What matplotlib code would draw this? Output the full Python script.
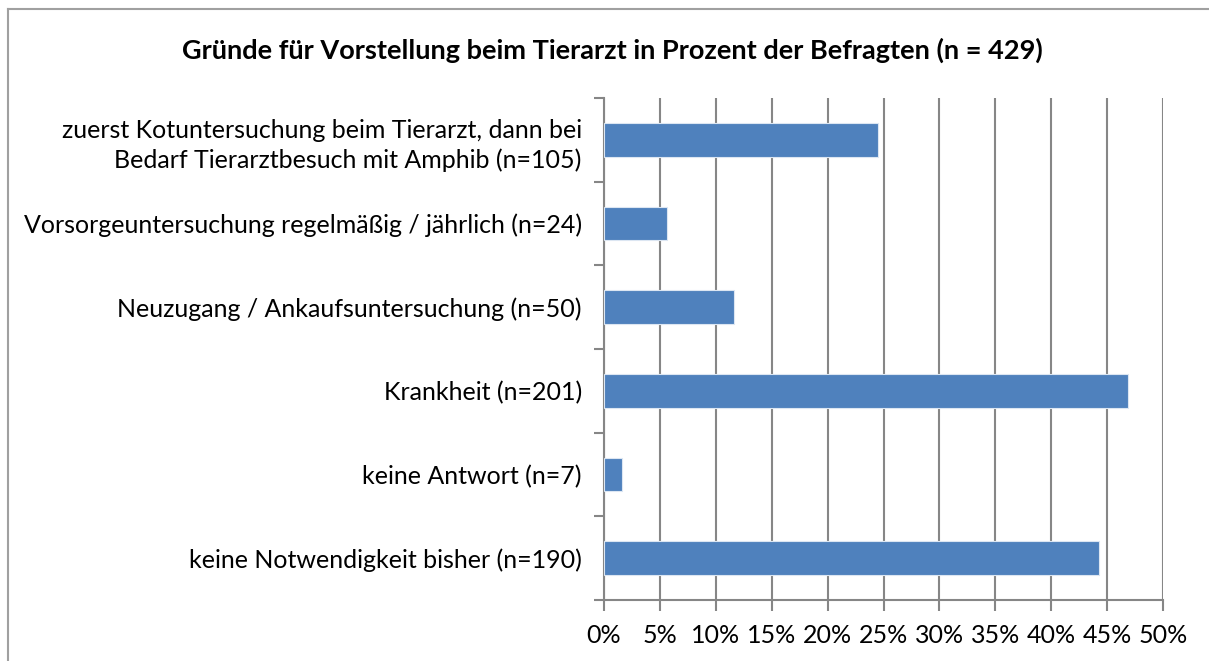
import matplotlib
matplotlib.use("Agg")
import matplotlib.pyplot as plt
import numpy as np

# answer categories, listed from bottom to top
categories = [
    "keine Notwendigkeit bisher (n=190)",
    "keine Antwort (n=7)",
    "Krankheit (n=201)",
    "Neuzugang / Ankaufsuntersuchung (n=50)",
    "Vorsorgeuntersuchung regelmäßig / jährlich (n=24)",
    "zuerst Kotuntersuchung beim Tierarzt, dann bei\nBedarf Tierarztbesuch mit Amphib (n=105)",
]
counts = [190, 7, 201, 50, 24, 105]
total = 429
percent = [c * 100.0 / total for c in counts]
xticks = [0, 5, 10, 15, 20, 25, 30, 35, 40, 45, 50]

plt.rcParams['font.family'] = ['Lato', 'DejaVu Sans']

W, H = 1209, 661
fig = plt.figure(figsize=(W / 100, H / 100), dpi=100)

ax = fig.add_axes([604 / W, 1 - 600 / H, (1163 - 604) / W, (600 - 98) / H])

grey = "#868686"
y = np.arange(len(categories))
ax.barh(y, percent, height=0.4, color="#4f81bd", edgecolor="#dce6f2", linewidth=0.8, zorder=3)

ax.set_xlim(0, 50)
ax.set_ylim(-0.5, len(categories) - 0.5)
ax.set_xticks(xticks)
ax.set_xticklabels([f"{t}%" for t in xticks], fontsize=18)
ax.set_yticks(y)
ax.set_yticklabels(categories, fontsize=18, ha="right", linespacing=1.35)
ax.set_yticks(np.arange(-0.5, len(categories)), minor=True)

ax.tick_params(axis="y", which="major", length=0, pad=16)
ax.tick_params(axis="y", which="minor", length=7, width=1.5, color=grey, direction="out")
ax.tick_params(axis="x", length=8, width=1.5, color=grey, direction="out", pad=9)

ax.grid(axis="x", color=grey, linewidth=1.5, zorder=0)
for s in ["top", "right"]:
    ax.spines[s].set_visible(False)
for s in ["left", "bottom"]:
    ax.spines[s].set_color(grey)
    ax.spines[s].set_linewidth(1.5)

fig.text(612 / W, 1 - 50 / H,
         "Gründe für Vorstellung beim Tierarzt in Prozent der Befragten (n = 429)",
         ha="center", va="center", fontsize=19.5, fontweight="bold")

# chart frame
fig.add_artist(plt.Line2D([7.5 / W, 7.5 / W], [0, 1 - 9 / H], transform=fig.transFigure, color="#a0a0a0", lw=1.5))
fig.add_artist(plt.Line2D([7.5 / W, 1], [1 - 9 / H, 1 - 9 / H], transform=fig.transFigure, color="#a0a0a0", lw=1.5))

fig.savefig("out.png", dpi=100)
